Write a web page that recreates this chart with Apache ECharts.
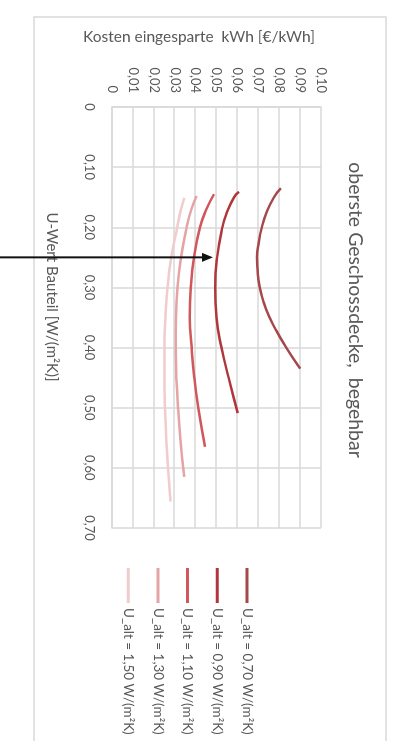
<!DOCTYPE html>
<html>
<head>
<meta charset="utf-8">
<script src="https://cdn.jsdelivr.net/npm/echarts@6/dist/echarts.min.js"></script>
<style>
  html, body { margin: 0; padding: 0; background: #fff; width: 393px; height: 741px; overflow: hidden; }
  /* the chart is laid out landscape and turned a quarter clockwise */
  #chart {
    position: absolute; left: 0; top: 0;
    width: 741px; height: 393px;
    transform-origin: 0 0;
    transform: translate(393px, 0) rotate(90deg);
  }
</style>
</head>
<body>
<div id="chart"></div>
<script>
// series labels
const seriesNames = [
  'U_alt = 0,70 W/(m²K)',
  'U_alt = 0,90 W/(m²K)',
  'U_alt = 1,10 W/(m²K)',
  'U_alt = 1,30 W/(m²K)',
  'U_alt = 1,50 W/(m²K)'
];

// U-Wert Bauteil [W/(m²K)] and Kosten eingesparte kWh [€/kWh] per series
const uWert070 = [0.135, 0.15, 0.175, 0.20, 0.225, 0.25, 0.275, 0.30, 0.325, 0.35, 0.375, 0.40, 0.42, 0.435];
const kosten070 = [0.0808, 0.0775, 0.0740, 0.0717, 0.0702, 0.0694, 0.0697, 0.0707, 0.0726, 0.0754, 0.0791, 0.0834, 0.0871, 0.0901];

const uWert090 = [0.141, 0.15, 0.175, 0.20, 0.25, 0.30, 0.35, 0.40, 0.45, 0.509];
const kosten090 = [0.0608, 0.0584, 0.0550, 0.0528, 0.0503, 0.0494, 0.0500, 0.0524, 0.0558, 0.0602];

const uWert110 = [0.145, 0.17, 0.20, 0.25, 0.30, 0.35, 0.40, 0.45, 0.50, 0.565];
const kosten110 = [0.0488, 0.0452, 0.0421, 0.0392, 0.0377, 0.0372, 0.0381, 0.0394, 0.0413, 0.0445];

const uWert130 = [0.148, 0.17, 0.20, 0.25, 0.30, 0.35, 0.40, 0.45, 0.50, 0.55, 0.615];
const kosten130 = [0.0405, 0.0380, 0.0357, 0.0330, 0.0313, 0.0306, 0.0305, 0.0308, 0.0316, 0.0326, 0.0346];

const uWert150 = [0.151, 0.17, 0.20, 0.25, 0.30, 0.35, 0.40, 0.45, 0.50, 0.55, 0.60, 0.656];
const kosten150 = [0.0346, 0.0330, 0.0312, 0.0284, 0.0266, 0.0256, 0.0251, 0.0251, 0.0254, 0.0260, 0.0268, 0.0280];

// point the annotation arrow touches: [U-Wert, Kosten]
const arrowTarget = [0.25, 0.0483];

const uWertLists = [uWert070, uWert090, uWert110, uWert130, uWert150];
const kostenLists = [kosten070, kosten090, kosten110, kosten130, kosten150];

const palette = ['#a5484b', '#b0363c', '#d0585c', '#e4a3a5', '#f0cccd'];
const textGray = '#595959';
const gridGray = '#d9d9d9';
const font = 'Lato, "Liberation Sans", sans-serif';

const fmt = v => (v === 0 ? '0' : v.toFixed(2).replace('.', ','));

const chart = echarts.init(document.getElementById('chart'), null, { renderer: 'canvas' });

chart.setOption({
  backgroundColor: '#fff',
  animation: false,
  color: palette,
  textStyle: { fontFamily: font },
  grid: { left: 107, right: 213, top: 72, bottom: 112, containLabel: false },
  xAxis: {
    type: 'value', min: 0, max: 0.7, interval: 0.1,
    axisLine: { show: true, lineStyle: { color: gridGray, width: 1.5 } },
    axisTick: { show: false },
    splitLine: { show: true, lineStyle: { color: gridGray, width: 1.5 } },
    axisLabel: { formatter: fmt, color: textGray, fontSize: 13, margin: 16, fontFamily: font }
  },
  yAxis: {
    type: 'value', min: 0, max: 0.1, interval: 0.01,
    axisLine: { show: true, lineStyle: { color: gridGray, width: 1.5 } },
    axisTick: { show: false },
    splitLine: { show: true, lineStyle: { color: gridGray, width: 1.5 } },
    axisLabel: { formatter: fmt, color: textGray, fontSize: 13, margin: 14, fontFamily: font }
  },
  legend: {
    orient: 'vertical',
    left: 563, top: 134,
    icon: 'rect',
    itemWidth: 35, itemHeight: 3,
    itemGap: 15.7,
    textStyle: { color: textGray, fontSize: 13.5, lineHeight: 14, fontFamily: font },
    data: seriesNames
  },
  series: seriesNames.map((name, i) => ({
    name,
    type: 'line',
    smooth: true,
    showSymbol: false,
    lineStyle: { width: 2.5, color: palette[i] },
    itemStyle: { color: palette[i] },
    data: uWertLists[i].map((u, j) => [u, kostenLists[i][j]])
  }))
});

// frame, titles and the annotation arrow
const tip = chart.convertToPixel({ gridIndex: 0 }, arrowTarget);
const chartH = chart.getHeight();

chart.setOption({
  graphic: {
    elements: [
      {
        type: 'rect', z: -1, silent: true,
        shape: { x: 17, y: 7, width: 900, height: 352 },
        style: { fill: 'none', stroke: gridGray, lineWidth: 1.5 }
      },
      {
        type: 'text', silent: true,
        x: 310, y: 38,
        style: {
          text: 'oberste Geschossdecke,  begehbar',
          fill: textGray, font: '19.5px ' + font,
          textAlign: 'center', textVerticalAlign: 'middle'
        }
      },
      {
        type: 'text', silent: true,
        x: 37, y: 194, rotation: Math.PI / 2,
        style: {
          text: 'Kosten eingesparte  kWh [€/kWh]',
          fill: textGray, font: '15.5px ' + font,
          textAlign: 'center', textVerticalAlign: 'middle'
        }
      },
      {
        type: 'text', silent: true,
        x: 297, y: 341,
        style: {
          text: 'U-Wert Bauteil [W/(m²K)]',
          fill: textGray, font: '15px ' + font,
          textAlign: 'center', textVerticalAlign: 'middle'
        }
      },
      {
        type: 'line', silent: true, z: 100,
        shape: { x1: tip[0], y1: chartH, x2: tip[0], y2: tip[1] + 8 },
        style: { stroke: '#111', lineWidth: 2 }
      },
      {
        type: 'polygon', silent: true, z: 100,
        shape: { points: [[tip[0], tip[1]], [tip[0] - 4.5, tip[1] + 11], [tip[0] + 4.5, tip[1] + 11]] },
        style: { fill: '#111' }
      }
    ]
  }
});
</script>
</body>
</html>
